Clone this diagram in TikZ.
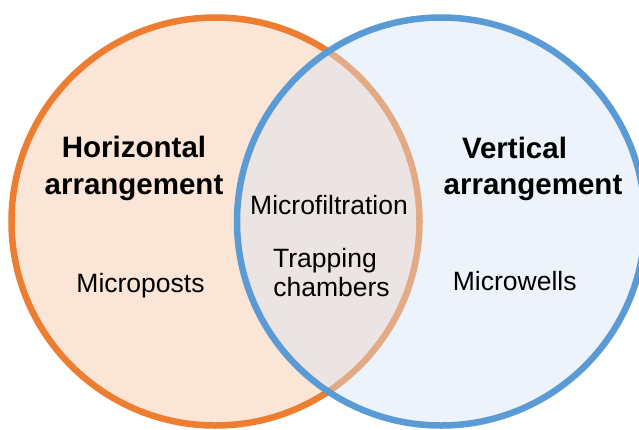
\documentclass[tikz,border=0pt]{standalone}
\usepackage{fontspec}
\setmainfont{Liberation Sans}
\definecolor{orangeline}{HTML}{ED7D31}
\definecolor{orangefill}{HTML}{FBE5D6}
\definecolor{blueline}{HTML}{5B9BD5}
\definecolor{bluefill}{RGB}{216,228,244}
\tikzset{
  circA/.style={draw=orangeline, fill=orangefill, line width=6.5pt},
  circB/.style={draw=blueline, fill=bluefill, fill opacity=0.44, line width=6.5pt},
  head/.style={anchor=base, inner sep=0pt, font=\fontsize{29.5}{35}\selectfont\bfseries},
  item/.style={anchor=base, inner sep=0pt, font=\fontsize{26.5}{31}\selectfont},
}
\begin{document}
\begin{tikzpicture}[x=1pt,y=1pt]
\useasboundingbox (0,0) rectangle (639,-429);
\clip (0,0) rectangle (639,-429);
\fill[white] (0,0) rectangle (639,-429);
\node[circle, circA, minimum size=408pt, inner sep=0pt] (left) at (215.5,-221.5) {};
\node[circle, circB, minimum size=408pt, inner sep=0pt] (right) at (441,-221.5) {};
\node[head] (h1) at (134,-157) {Horizontal};
\node[head] (h2) at (134,-194) {arrangement};
\node[head] (v1) at (514.5,-158) {Vertical};
\node[head] (v2) at (533,-194) {arrangement};
\node[item] (mp) at (140.5,-292) {Microposts};
\node[item] (mf) at (329,-214) {Microfiltration};
\node[item] (tr) at (325,-267.5) {Trapping};
\node[item] (ch) at (331.5,-296.5) {chambers};
\node[item] (mw) at (514.7,-290) {Microwells};
\end{tikzpicture}
\end{document}
